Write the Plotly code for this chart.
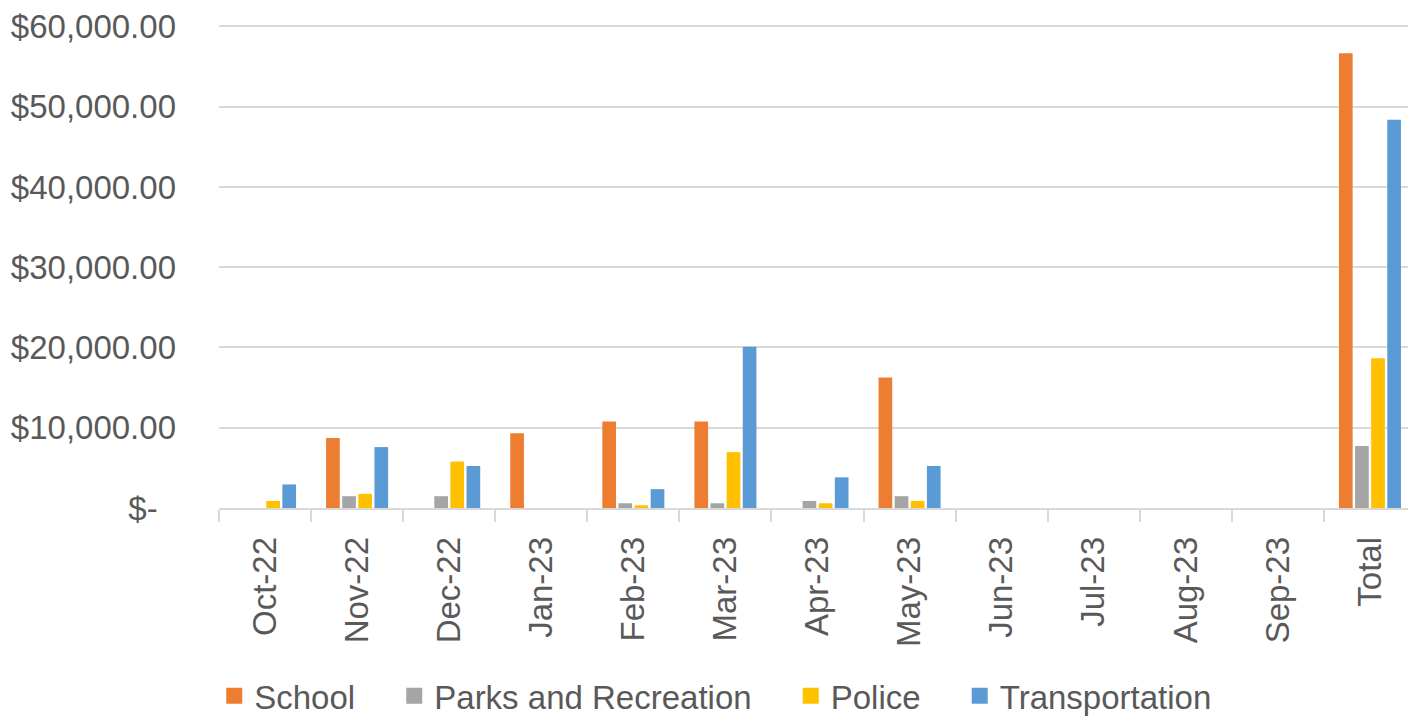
import plotly.graph_objects as go

months = ["Oct-22", "Nov-22", "Dec-22", "Jan-23", "Feb-23", "Mar-23", "Apr-23",
          "May-23", "Jun-23", "Jul-23", "Aug-23", "Sep-23", "Total"]
school = [0, 8720, 0, 9310, 10780, 10780, 0, 16270, 0, 0, 0, 0, 56670]
parks = [0, 1470, 1470, 0, 590, 590, 880, 1470, 0, 0, 0, 0, 7730]
police = [880, 1760, 5790, 0, 335, 6960, 590, 880, 0, 0, 0, 0, 18650]
transport = [2935, 7590, 5240, 0, 2350, 20080, 3820, 5240, 0, 0, 0, 0, 48360]

series_names = ["School", "Parks and Recreation", "Police", "Transportation"]
colors = ["#ED7D31", "#A5A5A5", "#FFC000", "#5B9BD5"]

ytickvals = [0, 10000, 20000, 30000, 40000, 50000, 60000]
yticktext = ["$-\u00a0\u00a0", "$10,000.00", "$20,000.00", "$30,000.00", "$40,000.00",
             "$50,000.00", "$60,000.00"]

fig = go.Figure()
for name, vals, c in zip(series_names, [school, parks, police, transport], colors):
    fig.add_trace(go.Bar(x=months, y=vals, name=name, showlegend=False,
                         marker=dict(color=c, line=dict(width=0))))
# legend entries with larger square swatches
pad = "\u00a0" * 3 + "\u2009"
for i, (name, c) in enumerate(zip(series_names, colors)):
    label = name + (pad if i < len(series_names) - 1 else "")
    fig.add_trace(go.Scatter(x=[None], y=[None], mode="markers", name=label,
                             marker=dict(symbol="square", size=20, color=c),
                             hoverinfo="skip"))

font_family = "Liberation Sans, Arial, sans-serif"
fig.update_layout(
    width=1416, height=719,
    margin=dict(l=211, r=8, t=16, b=219, autoexpand=False),
    paper_bgcolor="white", plot_bgcolor="white",
    barmode="group", bargap=0.3, bargroupgap=0.15,
    font=dict(family=font_family, size=33, color="#595959"),
    legend=dict(orientation="h", x=0.415, xanchor="center", y=-0.388, yanchor="middle",
                font=dict(size=33, color="#595959"), itemwidth=30, traceorder="normal"),
    showlegend=True,
)
fig.update_xaxes(
    type="category", tickangle=-90, showgrid=False, showline=True, automargin=False,
    linecolor="#D9D9D9", linewidth=1.5, ticks="outside", tickson="boundaries",
    ticklen=12, tickcolor="#D9D9D9", tickwidth=1.5, ticklabelstandoff=14,
    tickfont=dict(size=33, color="#595959"),
)
fig.update_yaxes(
    range=[0, 60300], tickvals=ytickvals, ticktext=yticktext, automargin=False,
    showgrid=True, gridcolor="#D9D9D9", gridwidth=1.5, zeroline=False, showline=False,
    ticks="", ticklabelstandoff=42, ticklabeloverflow="allow",
    tickfont=dict(size=33, color="#595959"),
)

fig.write_html("out.html")
